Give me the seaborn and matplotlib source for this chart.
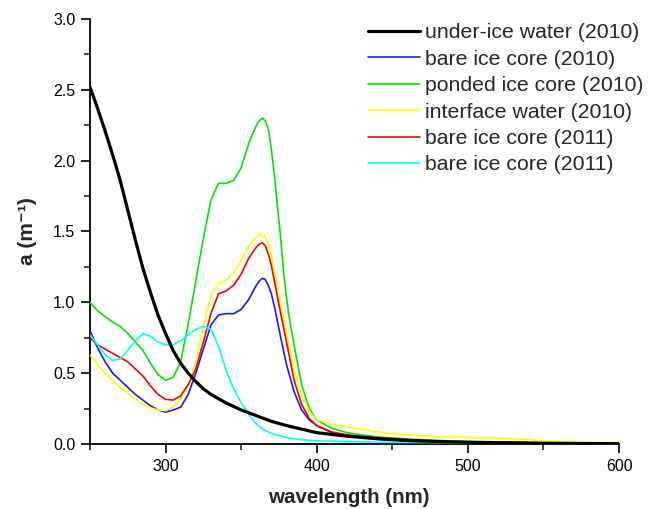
import matplotlib
matplotlib.use("Agg")
import matplotlib.pyplot as plt
from matplotlib.ticker import MultipleLocator
import seaborn as sns
import pandas as pd

sns.set_style("white")
plt.rcParams['font.family'] = ['Liberation Sans', 'DejaVu Sans']

# ---- data ----
under_ice_wl = [250, 255, 260, 265, 270, 275, 280, 285, 290, 295, 300, 305, 310, 315, 320, 325,
                330, 340, 350, 360, 370, 380, 390, 400, 420, 440, 460, 480, 500, 550, 600]
under_ice_a = [2.52, 2.37, 2.21, 2.04, 1.86, 1.65, 1.44, 1.24, 1.07, 0.91, 0.78, 0.66, 0.57, 0.50, 0.44, 0.39,
               0.35, 0.29, 0.24, 0.20, 0.16, 0.13, 0.105, 0.08, 0.055, 0.037, 0.025, 0.017, 0.012, 0.005, 0.002]

bare10_wl = [250, 255, 260, 265, 270, 275, 280, 285, 290, 295, 300, 305, 310, 315, 320, 325, 330, 335,
             340, 345, 350, 355, 360, 362, 364, 366, 368, 370, 372, 376, 380, 385, 390, 395, 400, 410,
             420, 440, 460, 480, 500, 550, 600]
bare10_a = [0.80, 0.68, 0.58, 0.50, 0.45, 0.40, 0.35, 0.31, 0.27, 0.24, 0.225, 0.24, 0.26, 0.35, 0.50,
            0.67, 0.84, 0.91, 0.92, 0.92, 0.95, 1.02, 1.12, 1.15, 1.17, 1.16, 1.12, 1.06, 0.97, 0.76,
            0.56, 0.37, 0.24, 0.17, 0.13, 0.08, 0.06, 0.035, 0.022, 0.015, 0.01, 0.005, 0.003]

ponded_wl = [250, 255, 260, 265, 270, 275, 280, 285, 290, 295, 300, 305, 310, 315, 320, 325, 330, 335,
             340, 345, 350, 355, 358, 361, 364, 366, 368, 370, 372, 374, 376, 378, 380, 382, 385, 390,
             395, 400, 410, 420, 440, 460, 480, 500, 550, 600]
ponded_a = [1.00, 0.94, 0.90, 0.86, 0.83, 0.78, 0.72, 0.66, 0.57, 0.49, 0.45, 0.47, 0.58, 0.85, 1.15,
            1.45, 1.72, 1.84, 1.84, 1.86, 1.95, 2.12, 2.20, 2.27, 2.30, 2.28, 2.22, 2.08, 1.90, 1.68,
            1.47, 1.22, 1.03, 0.88, 0.70, 0.42, 0.25, 0.17, 0.11, 0.08, 0.05, 0.035, 0.025, 0.018,
            0.01, 0.005]

interface_wl = [250, 255, 260, 265, 270, 275, 280, 285, 290, 295, 300, 305, 310, 315, 320, 325, 330, 335,
                340, 345, 350, 355, 360, 362, 364, 366, 368, 370, 372, 376, 380, 385, 390, 395, 400, 410,
                420, 440, 460, 480, 500, 520, 540, 550, 570, 600]
interface_a = [0.63, 0.56, 0.50, 0.45, 0.40, 0.36, 0.32, 0.28, 0.255, 0.24, 0.235, 0.26, 0.32, 0.41, 0.58,
               0.83, 1.05, 1.13, 1.16, 1.21, 1.29, 1.40, 1.46, 1.475, 1.48, 1.46, 1.41, 1.33, 1.22, 0.99,
               0.79, 0.52, 0.34, 0.23, 0.17, 0.14, 0.12, 0.085, 0.065, 0.052, 0.045, 0.04, 0.032, 0.02,
               0.014, 0.01]

bare11_wl = [250, 255, 260, 265, 270, 275, 280, 285, 290, 295, 300, 305, 310, 315, 320, 325, 330, 335,
             340, 345, 350, 355, 360, 362, 364, 366, 368, 370, 372, 376, 380, 385, 390, 395, 400, 410,
             420, 440, 460, 480, 500, 550, 600]
bare11_a = [0.75, 0.70, 0.67, 0.64, 0.61, 0.58, 0.53, 0.48, 0.41, 0.35, 0.315, 0.31, 0.34, 0.42, 0.53,
            0.72, 0.92, 1.06, 1.08, 1.12, 1.20, 1.31, 1.39, 1.41, 1.42, 1.40, 1.34, 1.26, 1.15, 0.93,
            0.72, 0.45, 0.28, 0.18, 0.13, 0.085, 0.065, 0.045, 0.032, 0.022, 0.016, 0.008, 0.005]

bare11b_wl = [250, 255, 260, 265, 270, 275, 280, 285, 290, 295, 300, 305, 310, 315, 320, 325, 330, 335,
              340, 345, 350, 355, 360, 365, 370, 380, 390, 400, 420, 450, 500, 550, 600]
bare11b_a = [0.77, 0.70, 0.63, 0.59, 0.60, 0.66, 0.73, 0.78, 0.76, 0.72, 0.70, 0.70, 0.73, 0.77, 0.81,
             0.83, 0.81, 0.69, 0.52, 0.39, 0.29, 0.21, 0.14, 0.10, 0.075, 0.045, 0.03, 0.023, 0.016,
             0.012, 0.008, 0.005, 0.003]

labels = ["under-ice water (2010)", "bare ice core (2010)", "ponded ice core (2010)",
          "interface water (2010)", "bare ice core (2011)", "bare ice core (2011)"]
colors = ["#000000", "#1a1aff", "#00e600", "#ffff00", "#ff0000", "#00ffff"]

series = [(under_ice_wl, under_ice_a), (bare10_wl, bare10_a), (ponded_wl, ponded_a),
          (interface_wl, interface_a), (bare11_wl, bare11_a), (bare11b_wl, bare11b_a)]

fig = plt.figure(figsize=(6.54, 5.09), dpi=100)
ax = fig.add_axes([0.1376, 0.1277, 0.809, 0.835])

handles = [None] * 6
order = [1, 2, 3, 4, 5, 0]  # draw black last (on top)
for i in order:
    wl, a = series[i]
    df = pd.DataFrame({"wavelength": wl, "a": a})
    lw = 2.3 if i == 0 else 1.2
    sns.lineplot(data=df, x="wavelength", y="a", ax=ax, color=colors[i], linewidth=lw,
                 label=labels[i], zorder=5 if i == 0 else 3, legend=False)
    handles[i] = ax.lines[-1]

ax.set_xlim(250, 600)
ax.set_ylim(0, 3.0)
ax.xaxis.set_minor_locator(MultipleLocator(50))
ax.yaxis.set_minor_locator(MultipleLocator(0.25))
ax.set_xticks([300, 400, 500, 600])
ax.set_yticks([0.0, 0.5, 1.0, 1.5, 2.0, 2.5, 3.0])
ax.set_yticklabels(["0.0", "0.5", "1.0", "1.5", "2.0", "2.5", "3.0"])
ax.tick_params(axis="both", which="major", direction="out", length=6.5, width=1.2,
               labelsize=11.5, colors="black", bottom=True, left=True, pad=4)
ax.tick_params(axis="both", which="minor", direction="out", length=4, width=1.2,
               bottom=True, left=True)
for s in ["top", "right"]:
    ax.spines[s].set_visible(False)
for s in ["left", "bottom"]:
    ax.spines[s].set_color("black")
    ax.spines[s].set_linewidth(1.3)

ax.set_xlabel("wavelength (nm)", fontsize=14.8, fontweight="bold")
ax.xaxis.set_label_coords(0.49, -0.104)
ax.set_ylabel("a (m\u207b\u00b9)", fontsize=15, fontweight="bold")
ax.yaxis.set_label_coords(-0.100, 0.5)

leg = ax.legend(handles, labels, loc="upper left", bbox_to_anchor=(0.5255, 0.990), frameon=False,
                fontsize=15.3, handlelength=2.45, handletextpad=0.23, labelspacing=0.35,
                borderaxespad=0.0, borderpad=0.0)

fig.savefig("out.png", dpi=100)
